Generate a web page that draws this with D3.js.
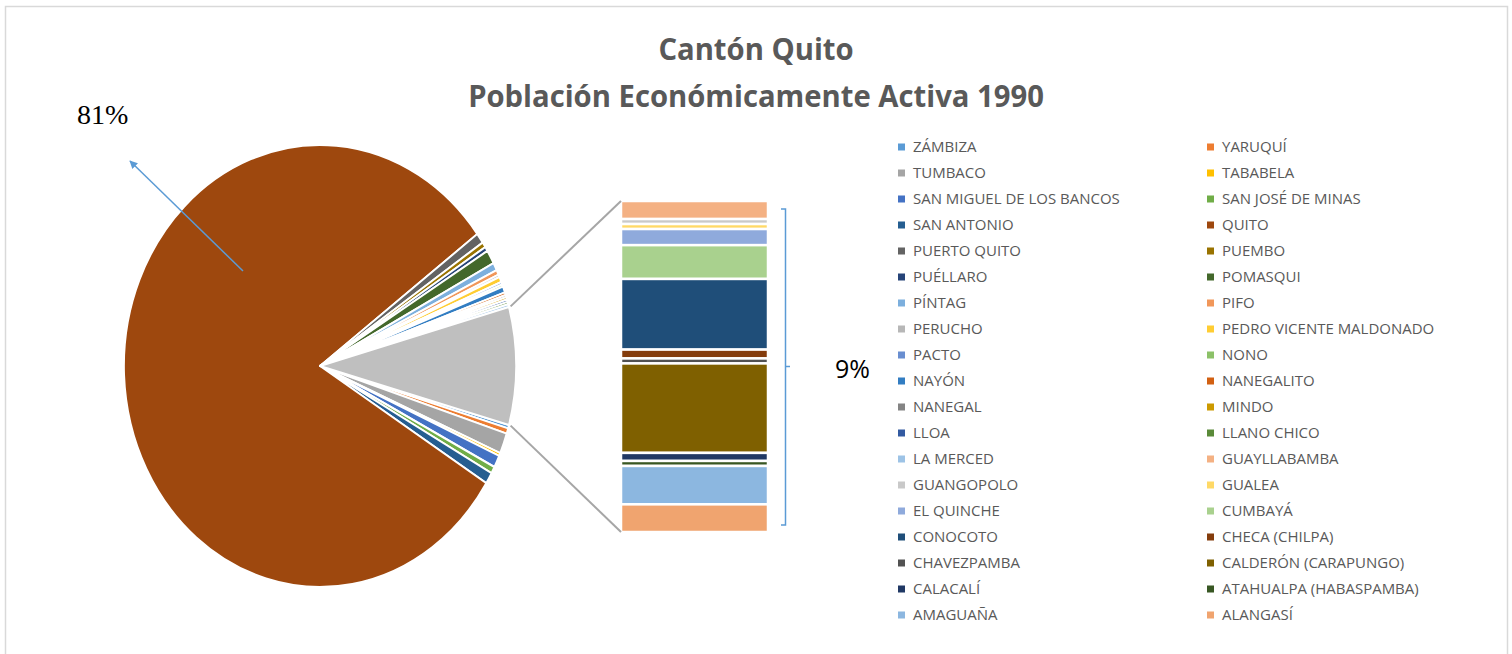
<!DOCTYPE html>
<html>
<head>
<meta charset="utf-8">
<script src="https://cdn.jsdelivr.net/npm/d3@7"></script>
<style>
  body { margin: 0; background: #fff; }
  svg { display: block; }
</style>
</head>
<body>
<svg id="chart"></svg>
<script>
// parishes in series order (legend reads row by row)
const parishes = [
    "ZÁMBIZA", "YARUQUÍ", "TUMBACO", "TABABELA", "SAN MIGUEL DE LOS BANCOS", "SAN JOSÉ DE MINAS",
    "SAN ANTONIO", "QUITO", "PUERTO QUITO", "PUEMBO", "PUÉLLARO", "POMASQUI",
    "PÍNTAG", "PIFO", "PERUCHO", "PEDRO VICENTE MALDONADO", "PACTO", "NONO",
    "NAYÓN", "NANEGALITO", "NANEGAL", "MINDO", "LLOA", "LLANO CHICO",
    "LA MERCED", "GUAYLLABAMBA", "GUANGOPOLO", "GUALEA", "EL QUINCHE", "CUMBAYÁ",
    "CONOCOTO", "CHECA (CHILPA)", "CHAVEZPAMBA", "CALDERÓN (CARAPUNGO)", "CALACALÍ", "ATAHUALPA (HABASPAMBA)",
    "AMAGUAÑA", "ALANGASÍ"
];

// share of the economically active population, %
const pea = [
    0.25, 0.39, 1.50, 0.22, 0.89, 0.50,
    0.83, 81.00, 0.75, 0.39, 0.33, 1.00,
    0.58, 0.35, 0.19, 0.39, 0.19, 0.17,
    0.44, 0.20, 0.16, 0.18, 0.18, 0.18,
    0.20, 0.47, 0.13, 0.13, 0.42, 0.88,
    1.84, 0.23, 0.13, 2.33, 0.21, 0.13,
    1.00, 0.72
];

const colors = [
    "#5B9BD5", "#ED7D31", "#A5A5A5", "#FFC000", "#4472C4", "#70AD47",
    "#255E91", "#9E480E", "#636363", "#997300", "#264478", "#43682B",
    "#7CAFDD", "#F1975A", "#B7B7B7", "#FFCD33", "#698ED0", "#8CC168",
    "#327DC2", "#D26012", "#848484", "#CC9A00", "#335AA1", "#5A8A39",
    "#9DC3E6", "#F4B183", "#C9C9C9", "#FFD966", "#8FAADC", "#A9D18E",
    "#1F4E79", "#843C0C", "#525252", "#7F6000", "#203864", "#385723",
    "#8CB7E0", "#F0A46F"
];

// number of points drawn in the pie, the rest go into the bar
const pieCount = 25;
const titleLines = ["Cantón Quito", "Población Económicamente Activa 1990"];
const quitoLabel = "81%";
const otherLabel = "9%";

const W = 1512, H = 654;
const svg = d3.select("#chart").attr("width", W).attr("height", H);

// chart frame
svg.append("rect")
    .attr("x", 5.5).attr("y", 6.5)
    .attr("width", 1502).attr("height", 660)
    .attr("fill", "#fff")
    .attr("stroke", "#D9D9D9")
    .attr("stroke-width", 1.5);

// title
const title = svg.append("g").attr("class", "title");
title.selectAll("text")
    .data(titleLines)
    .join("text")
    .attr("y", (d, i) => 60 + i * 47)
    .attr("text-anchor", "middle")
    .style("font-family", "'Open Sans', sans-serif")
    .style("font-weight", "bold")
    .style("font-size", "30px")
    .attr("fill", "#595959")
    .text(d => d);
const titleW = title.selectAll("text").nodes()[1].getComputedTextLength();
const titleSx = 576 / titleW;
title.selectAll("text").attr("transform", `translate(756,0) scale(${titleSx},1)`);

// data split
const items = parishes.map((name, i) => ({name: name, value: pea[i], color: colors[i]}));
const pieItems = items.slice(0, pieCount);
const barItems = items.slice(pieCount);
const otherSum = d3.sum(barItems, d => d.value);
const total = d3.sum(items, d => d.value);
const otherAngle = 2 * Math.PI * otherSum / total;

// pie, the "other" slice centred at 3 o'clock; the whole picture is a bit narrower than tall
const cx = 320, cy = 366, r = 221, squeeze = 0.887;
const start = Math.PI / 2 + otherAngle / 2;
const pie = d3.pie().sort(null).value(d => d.value)
    .startAngle(start).endAngle(start + 2 * Math.PI);
const arc = d3.arc().innerRadius(0).outerRadius(r);
const slices = pie(pieItems.concat([{name: "other", value: otherSum, color: "#BFBFBF"}]));

const pieG = svg.append("g").attr("transform", `translate(${cx},${cy}) scale(${squeeze},1)`);
pieG.selectAll("path")
    .data(slices)
    .join("path")
    .attr("d", arc)
    .attr("fill", d => d.data.color)
    .attr("stroke", "#fff")
    .attr("stroke-width", 2)
    .attr("stroke-linejoin", "round");

// bar of the "other" slice, stacked top to bottom
const barX0 = 621, barX1 = 768;
const barY = d3.scaleLinear().domain([0, otherSum]).range([201, 532]);
let acc = 0;
const stack = barItems.map(d => {
    const s = {name: d.name, color: d.color, y0: acc, y1: acc + d.value};
    acc += d.value;
    return s;
});
svg.append("g").selectAll("rect")
    .data(stack)
    .join("rect")
    .attr("x", barX0)
    .attr("y", d => barY(d.y0))
    .attr("width", barX1 - barX0)
    .attr("height", d => barY(d.y1) - barY(d.y0))
    .attr("fill", d => d.color)
    .attr("stroke", "#fff")
    .attr("stroke-width", 2.5);

// series lines from the other slice to the bar
const otherSlice = slices[slices.length - 1];
const corner = a => [cx + squeeze * (r + 2) * Math.sin(a), cy - (r + 2) * Math.cos(a)];
const topCorner = corner(otherSlice.startAngle);
const botCorner = corner(otherSlice.endAngle);
svg.append("g").selectAll("line")
    .data([[topCorner, [barX0, barY(0)]], [botCorner, [barX0, barY(otherSum)]]])
    .join("line")
    .attr("x1", d => d[0][0]).attr("y1", d => d[0][1])
    .attr("x2", d => d[1][0]).attr("y2", d => d[1][1])
    .attr("stroke", "#A6A6A6")
    .attr("stroke-width", 2);

// bracket next to the bar
const brace = d3.path();
brace.moveTo(781, barY(0) + 8);
brace.lineTo(785.5, barY(0) + 8);
brace.lineTo(785.5, barY(otherSum) - 7);
brace.lineTo(781, barY(otherSum) - 7);
brace.moveTo(785.5, barY(otherSum / 2));
brace.lineTo(790, barY(otherSum / 2));
svg.append("path")
    .attr("d", brace.toString())
    .attr("fill", "none")
    .attr("stroke", "#5B9BD5")
    .attr("stroke-width", 1.5);

svg.append("text")
    .attr("x", 835).attr("y", 378)
    .style("font-family", "'Open Sans', sans-serif")
    .style("font-size", "25px")
    .attr("fill", "#000")
    .text(otherLabel);

// arrow and label for Quito
svg.append("defs").append("marker")
    .attr("id", "arrowHead")
    .attr("viewBox", "0 0 10 10")
    .attr("refX", 9).attr("refY", 5)
    .attr("markerWidth", 8).attr("markerHeight", 8)
    .attr("markerUnits", "userSpaceOnUse")
    .attr("orient", "auto")
    .append("path")
    .attr("d", "M0,0 L10,5 L0,10 z")
    .attr("fill", "#5B9BD5");
svg.append("line")
    .attr("x1", 243).attr("y1", 271)
    .attr("x2", 130).attr("y2", 161)
    .attr("stroke", "#5B9BD5")
    .attr("stroke-width", 1.5)
    .attr("marker-end", "url(#arrowHead)");

svg.append("text")
    .attr("x", 77).attr("y", 124)
    .style("font-family", "'Liberation Serif', 'Times New Roman', serif")
    .style("font-size", "28px")
    .attr("fill", "#000")
    .text(quitoLabel);

// legend, two columns read row by row
const legendX = [898, 1207], legendY0 = 147, legendStep = 26;
const legend = svg.append("g").attr("class", "legend");
const entries = legend.selectAll("g")
    .data(items)
    .join("g")
    .attr("transform", (d, i) => `translate(${legendX[i % 2]},${legendY0 + Math.floor(i / 2) * legendStep})`);
entries.append("rect")
    .attr("x", 0).attr("y", -3.5)
    .attr("width", 7).attr("height", 7)
    .attr("fill", d => d.color);
const legendText = entries.append("text")
    .attr("dy", "0.35em")
    .style("font-family", "'Open Sans', sans-serif")
    .style("font-size", "15px")
    .attr("fill", "#595959")
    .text(d => d.name);
const refW = legendText.filter(d => d.name === "SAN MIGUEL DE LOS BANCOS").node().getComputedTextLength();
const legendSx = 207 / refW;
legendText.attr("transform", `translate(15,0) scale(${legendSx},1)`);
</script>
</body>
</html>
